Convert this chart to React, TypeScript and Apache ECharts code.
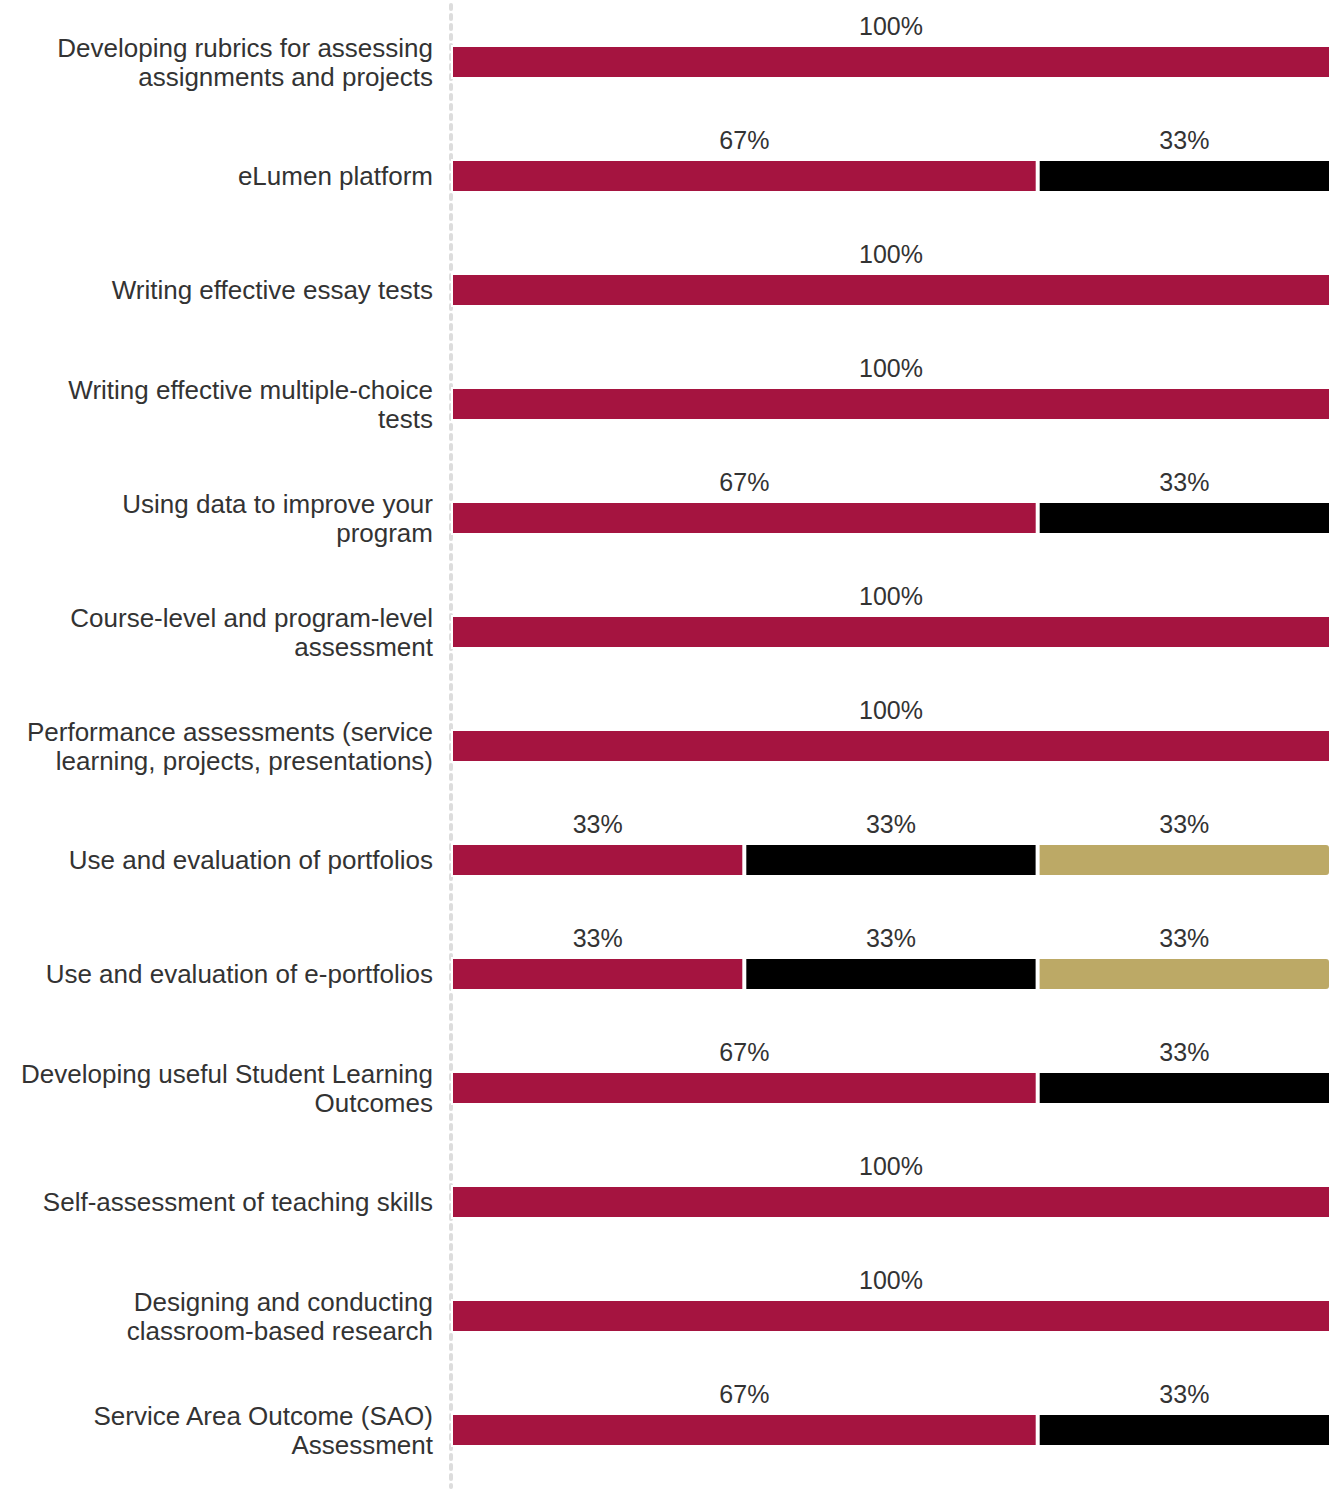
import React, { useEffect, useRef } from "react";
import * as echarts from "echarts";

const categories: string[] = [
  "Developing rubrics for assessing\nassignments and projects",
  "eLumen platform",
  "Writing effective essay tests",
  "Writing effective multiple-choice\ntests",
  "Using data to improve your\nprogram",
  "Course-level and program-level\nassessment",
  "Performance assessments (service\nlearning, projects, presentations)",
  "Use and evaluation of portfolios",
  "Use and evaluation of e-portfolios",
  "Developing useful Student Learning\nOutcomes",
  "Self-assessment of teaching skills",
  "Designing and conducting\nclassroom-based research",
  "Service Area Outcome (SAO)\nAssessment",
];

const seriesCrimson: (number | null)[] = [100, 66.67, 100, 100, 66.67, 100, 100, 33.33, 33.33, 66.67, 100, 100, 66.67];
const seriesBlack: (number | null)[] = [null, 33.33, null, null, 33.33, null, null, 33.33, 33.33, 33.33, null, null, 33.33];
const seriesGold: (number | null)[] = [null, null, null, null, null, null, null, 33.34, 33.34, null, null, null, null];

const FONT = "'Liberation Sans', Arial, Helvetica, sans-serif";

export default function App() {
  const ref = useRef<HTMLDivElement>(null);
  useEffect(() => {
    if (!ref.current) return;
    const chart = echarts.init(ref.current, null, { renderer: "svg" });
    const label = {
      show: true,
      position: "top" as const,
      distance: 7,
      fontSize: 25,
      color: "#333",
      fontFamily: FONT,
      formatter: (p: any) => (p.value == null ? "" : Math.round(p.value) + "%"),
    };
    const mk = (name: string, data: (number | null)[], color: string, radius: any) => ({
      name,
      type: "bar" as const,
      stack: "total",
      data,
      barWidth: 34,
      itemStyle: { color, borderColor: "#fff", borderWidth: 2, borderRadius: radius },
      label,
    });
    chart.setOption({
      animation: false,
      grid: { left: 451, right: 5, top: 5, bottom: 5, containLabel: false },
      xAxis: {
        type: "value",
        min: 0,
        max: 100,
        show: false,
      },
      yAxis: {
        type: "category",
        inverse: true,
        data: categories,
        axisTick: { show: false },
        axisLine: {
          show: true,
          lineStyle: { color: "#dddddd", width: 4, type: [4, 6] },
        },
        axisLabel: {
          fontSize: 26,
          color: "#333",
          lineHeight: 29,
          fontFamily: FONT,
          margin: 18,
          align: "right",
        },
        splitLine: { show: false },
      },
      series: [
        mk("A", seriesCrimson, "#a51440", 0),
        mk("B", seriesBlack, "#000000", 0),
        mk("C", seriesGold, "#bca966", [0, 4, 4, 0]),
      ],
    });
    return () => chart.dispose();
  }, []);
  return (
    <div
      ref={ref}
      style={{ position: "absolute", left: 0, top: 0, width: 1336, height: 1492 }}
    />
  );
}
